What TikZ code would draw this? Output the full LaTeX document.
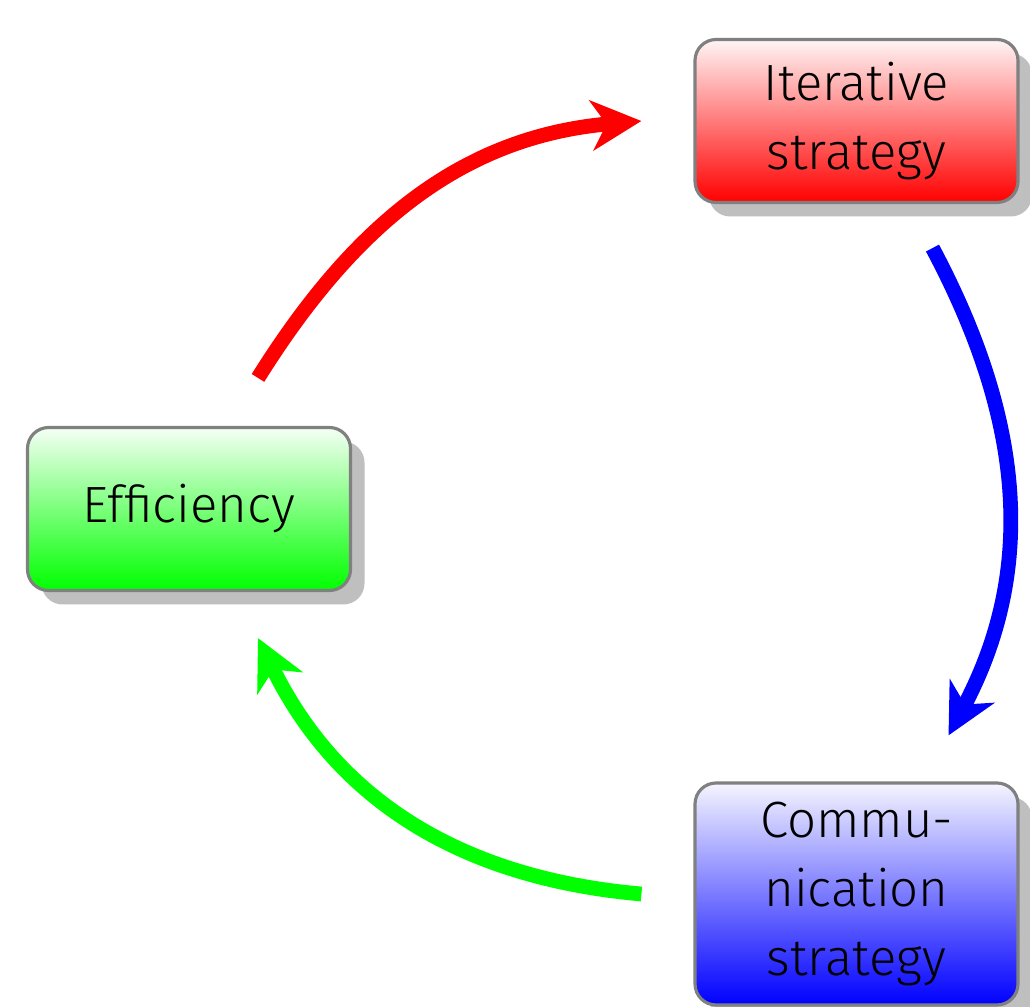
\documentclass[tikz,border=0pt]{standalone}
\usepackage{fontspec}
\setmainfont{Fira Sans Light}
\usetikzlibrary{positioning, arrows.meta, shadows}

\begin{document}
\begin{tikzpicture}[
        sbox/.style={draw=gray, line width=0.9pt, rounded corners=6pt,
            minimum width=3.23cm, minimum height=1.63cm, align=center,
            font=\fontsize{14.5}{19.6}\selectfont,
            drop shadow={shadow xshift=0.14cm, shadow yshift=-0.14cm,
                fill=black!25, opacity=1}},
        cyc/.style={line width=4.2pt,
            -{Stealth[length=5mm, width=5mm, inset=1.5mm]}}
    ]
    \useasboundingbox (0, 0) rectangle (10.30, 10.07);
    \node[sbox, top color=green!4, bottom color=green] (eff) at (1.89, 4.98)
        {Efficiency};
    \node[sbox, top color=red!4, bottom color=red] (it) at (8.565, 8.86)
        {Iterative\\strategy};
    \node[sbox, top color=blue!4, bottom color=blue, minimum height=2.22cm]
        (com) at (8.565, 1.13) {Commu-\\nication\\strategy};

    \draw[cyc, red] ([xshift=0.69cm, yshift=0.48cm]eff.north)
        to[out=58, in=185] ([xshift=-0.52cm]it.west);
    \draw[cyc, blue] ([xshift=0.76cm, yshift=-0.44cm]it.south)
        to[out=-62, in=62] ([xshift=0.92cm, yshift=0.46cm]com.north);
    \draw[cyc, green] ([xshift=-0.52cm]com.west)
        to[out=175, in=-64] ([xshift=0.69cm, yshift=-0.46cm]eff.south);
\end{tikzpicture}
\end{document}
